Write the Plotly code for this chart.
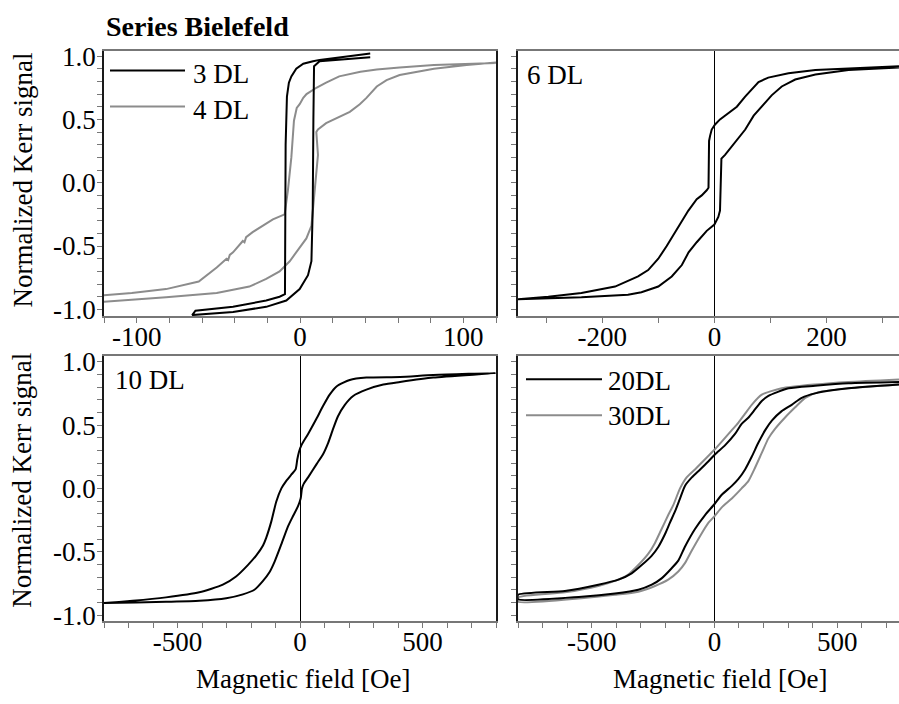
import plotly.graph_objects as go

# ---------------- data ----------------
# 3 DL (black), descending branch then ascending branch
dl3_down_field = [43, 30, 12, 8, 2, -2.3, -5.3, -6.8, -8, -8.8, -9, -9.2, -12.5, -20.7, -41, -64]
dl3_down_kerr = [1.02, 1.0, 0.97, 0.96, 0.94, 0.90, 0.84, 0.79, 0.68, 0.3, -0.5, -0.88, -0.90, -0.93, -0.98, -1.01]
dl3_up_field = [-66, -41, -20.7, -8.4, -0.2, 4.9, 7, 7.8, 8.2, 8.6, 12, 30, 43]
dl3_up_kerr = [-1.045, -1.02, -0.98, -0.93, -0.84, -0.73, -0.62, -0.2, 0.5, 0.92, 0.96, 0.98, 0.99]

# 4 DL (grey)
dl4_down_field = [120, 100, 82, 61, 47, 37, 24, 16, 10, 4, 2, -0.2, -2, -3.7, -5.3, -7.4, -9.4,
                  -16.6, -22.7, -29, -33, -34, -35, -41, -43, -44, -45, -51, -62, -82, -103, -121]
dl4_down_kerr = [0.946, 0.935, 0.93, 0.91, 0.895, 0.877, 0.84, 0.79, 0.75, 0.70, 0.67, 0.62, 0.59, 0.49,
                 0.20, -0.06, -0.25, -0.29, -0.34, -0.39, -0.43, -0.47, -0.46, -0.55, -0.57, -0.61, -0.60,
                 -0.67, -0.78, -0.84, -0.87, -0.89]
dl4_up_field = [-121, -82, -51, -31, -20.7, -12.5, -6.3, -1.2, 3.9, 7, 8, 9, 9.6, 11, 10, 11, 16,
                24.4, 30.5, 36.6, 40.7, 47, 53, 61, 82, 102, 120]
dl4_up_kerr = [-0.94, -0.905, -0.87, -0.82, -0.76, -0.70, -0.62, -0.53, -0.44, -0.34, -0.21, -0.08, 0.04,
               0.22, 0.40, 0.42, 0.47, 0.52, 0.56, 0.62, 0.67, 0.76, 0.81, 0.85, 0.90, 0.93, 0.95]

# 6 DL (black)
dl6_down_field = [329, 239, 180, 132, 96, 78.6, 66.7, 54.8, 40, 25, 10, 1.2, -4.8, -7.7, -9.5, -10.5,
                  -13.7, -22.6, -31.5, -46.4, -61.3, -76, -85, -100, -118, -136, -177, -237, -296, -350]
dl6_down_kerr = [0.92, 0.905, 0.89, 0.864, 0.83, 0.795, 0.74, 0.68, 0.60, 0.55, 0.50, 0.46, 0.42, 0.37,
                 0.33, -0.04, -0.06, -0.10, -0.13, -0.22, -0.33, -0.44, -0.50, -0.60, -0.69, -0.74, -0.82,
                 -0.87, -0.90, -0.92]
dl6_up_field = [-350, -237, -154, -130, -100, -76, -58, -46, -31.5, -13.7, 0, 7, 10, 11.5, 12.5, 19, 28,
                40, 55, 70, 84.5, 102, 120, 144, 180, 239, 329]
dl6_up_kerr = [-0.92, -0.905, -0.885, -0.865, -0.82, -0.74, -0.65, -0.55, -0.47, -0.38, -0.33, -0.27,
               -0.22, 0.0, 0.19, 0.22, 0.27, 0.33, 0.42, 0.53, 0.60, 0.69, 0.76, 0.815, 0.854, 0.89, 0.91]

# 10 DL (black)
dl10_down_field = [800, 544, 408, 271, 203, 149, 121, 94, 67, 33, 5.5, -4, -11, -18, -35, -56, -76, -97,
                   -117, -138, -151, -179, -213, -261, -315, -411, -547, -683, -800]
dl10_down_kerr = [0.91, 0.895, 0.88, 0.875, 0.856, 0.805, 0.74, 0.65, 0.55, 0.43, 0.34, 0.29, 0.23, 0.15,
                  0.11, 0.06, 0.0, -0.105, -0.26, -0.39, -0.45, -0.53, -0.605, -0.695, -0.76, -0.82, -0.86,
                  -0.887, -0.905]
dl10_up_field = [-800, -547, -411, -301, -233, -186, -151, -124, -104, -76, -49, -29, -8, 2.7, 8, 15, 33,
                 67, 94, 115, 135, 155, 183, 217, 271, 340, 408, 544, 800]
dl10_up_kerr = [-0.905, -0.895, -0.887, -0.867, -0.836, -0.80, -0.73, -0.66, -0.58, -0.44, -0.30, -0.22,
                -0.14, -0.08, 0.0, 0.036, 0.087, 0.19, 0.27, 0.36, 0.47, 0.57, 0.66, 0.73, 0.78, 0.82,
                0.84, 0.875, 0.91]

# 20 DL (black)
dl20_down_field = [752, 546, 410, 302, 220, 193, 166, 139, 111, 84, 43, 3, -24, -58, -92, -120, -140,
                   -160, -181, -201, -228, -255, -296, -337, -391, -473, -609, -800]
dl20_down_kerr = [0.84, 0.83, 0.81, 0.79, 0.73, 0.69, 0.625, 0.56, 0.51, 0.43, 0.34, 0.27, 0.215, 0.15,
                  0.087, 0.02, -0.08, -0.18, -0.27, -0.36, -0.46, -0.53, -0.605, -0.67, -0.72, -0.76,
                  -0.81, -0.84]
dl20_up_field = [-800, -541, -405, -310, -255, -215, -174, -147, -120, -79, -38, 0, 30, 71, 98, 125, 152,
                 179, 207, 234, 274, 315, 356, 410, 546, 752]
dl20_up_kerr = [-0.875, -0.855, -0.83, -0.80, -0.76, -0.71, -0.63, -0.57, -0.46, -0.32, -0.21, -0.125,
                -0.05, 0.02, 0.075, 0.15, 0.25, 0.36, 0.46, 0.535, 0.61, 0.66, 0.715, 0.75, 0.79, 0.82]

# 30 DL (grey)
dl30_down_field = [752, 546, 410, 274, 193, 152, 125, 98, 71, 30, 0, -38, -79, -113, -140, -167, -188,
                   -215, -242, -269, -310, -351, -405, -473, -609, -800]
dl30_down_kerr = [0.86, 0.84, 0.82, 0.79, 0.74, 0.66, 0.59, 0.52, 0.46, 0.37, 0.305, 0.23, 0.15, 0.087,
                  0.0, -0.13, -0.21, -0.32, -0.43, -0.515, -0.605, -0.68, -0.73, -0.77, -0.82, -0.86]
dl30_up_field = [-800, -541, -405, -310, -242, -188, -147, -120, -92, -58, -24, 0, 30, 71, 111, 139, 166,
                 193, 220, 247, 288, 329, 370, 424, 546, 752]
dl30_up_kerr = [-0.895, -0.867, -0.84, -0.815, -0.77, -0.72, -0.656, -0.59, -0.49, -0.375, -0.27, -0.22,
                -0.15, -0.08, 0.0, 0.06, 0.165, 0.28, 0.395, 0.47, 0.56, 0.64, 0.715, 0.76, 0.79, 0.82]

# tick labels
y_tick_vals = [-1.0, -0.5, 0.0, 0.5, 1.0]
y_tick_text = ["-1.0", "-0.5", "0.0", "0.5", "1.0"]
x1_tick_vals = [-100, 0, 100]
x1_tick_text = ["-100", "0", "100"]
x2_tick_vals = [-200, 0, 200]
x2_tick_text = ["-200", "0", "200"]
x34_tick_vals = [-500, 0, 500]
x34_tick_text = ["-500", "0", "500"]

# ---------------- figure ----------------
W, H = 899, 704
BLACK = "#000000"
GREY = "#8c8c8c"
XAXC = "#777777"
YAXC = "#1a1a1a"
TICKC = "#777777"
FONT = "Liberation Serif"
FS = 27


def px(x):
    return x / W


def py(y):
    return 1 - y / H


fig = go.Figure()


def loop(xd, yd, xu, yu, color, xa, ya, shape="linear"):
    fig.add_trace(go.Scatter(x=xd + xu, y=yd + yu, mode="lines",
                             line=dict(color=color, width=2, shape=shape, smoothing=0.6),
                             xaxis=xa, yaxis=ya, showlegend=False, hoverinfo="skip"))


loop(dl4_down_field, dl4_down_kerr, dl4_up_field, dl4_up_kerr, GREY, "x", "y")
loop(dl3_down_field, dl3_down_kerr, dl3_up_field, dl3_up_kerr, BLACK, "x", "y")
loop(dl6_down_field, dl6_down_kerr, dl6_up_field, dl6_up_kerr, BLACK, "x2", "y2")
loop(dl10_down_field, dl10_down_kerr, dl10_up_field, dl10_up_kerr, BLACK, "x3", "y3", "spline")
loop(dl30_down_field, dl30_down_kerr, dl30_up_field, dl30_up_kerr, GREY, "x4", "y4", "spline")
loop(dl20_down_field, dl20_down_kerr, dl20_up_field, dl20_up_kerr, BLACK, "x4", "y4", "spline")

tickfont = dict(family=FONT, size=FS, color="black")


def xax(domain, rng, tv, tt, minor, anchor, zero):
    return dict(domain=domain, range=rng, anchor=anchor, tickmode="array", tickvals=tv, ticktext=tt,
                showline=True, linecolor=XAXC, linewidth=1.5, mirror=True, ticks="outside",
                ticklen=5, tickcolor=TICKC, tickwidth=1.2, showgrid=False, tickfont=tickfont,
                ticklabelstandoff=-9,
                zeroline=zero, zerolinecolor="black", zerolinewidth=1,
                minor=dict(dtick=minor, tick0=0, ticks="outside", ticklen=5, tickcolor=TICKC,
                           tickwidth=1.2, showgrid=False))


def yax(domain, rng, anchor, labels, mirror):
    return dict(domain=domain, range=rng, anchor=anchor, tickmode="array", tickvals=y_tick_vals,
                ticktext=y_tick_text, showticklabels=labels,
                showline=True, linecolor=YAXC, linewidth=1.5, mirror=mirror, ticks="outside",
                ticklen=5, tickcolor=TICKC, tickwidth=1.2, showgrid=False, zeroline=False,
                tickfont=tickfont, ticklabelstandoff=-4,
                minor=dict(dtick=0.1, tick0=0, ticks="outside", ticklen=5, tickcolor=TICKC,
                           tickwidth=1.2, showgrid=False))


xl = [px(104), px(496)]
xr = [px(518), 1.0]
yt = [py(315), py(43)]
yb = [py(628), py(356)]

fig.update_layout(
    width=W, height=H, margin=dict(l=0, r=0, t=0, b=0),
    paper_bgcolor="white", plot_bgcolor="white",
    font=dict(family=FONT, size=FS, color="black"),
    xaxis=xax(xl, [-120, 120], x1_tick_vals, x1_tick_text, 20, "y", False),
    yaxis=yax(yt, [-1.052, 1.041], "x", True, True),
    xaxis2=xax(xr, [-350, 329], x2_tick_vals, x2_tick_text, 100, "y2", True),
    yaxis2=yax(yt, [-1.052, 1.041], "x2", False, False),
    xaxis3=xax(xl, [-800, 800], x34_tick_vals, x34_tick_text, 100, "y3", True),
    yaxis3=yax(yb, [-1.046, 1.046], "x3", True, True),
    xaxis4=xax(xr, [-800, 752], x34_tick_vals, x34_tick_text, 100, "y4", True),
    yaxis4=yax(yb, [-1.046, 1.046], "x4", False, False),
)

ann = []


def text(t, x, y, xanchor="left", size=FS, angle=0):
    ann.append(dict(text=t, x=px(x), y=py(y), xref="paper", yref="paper", xanchor=xanchor,
                    yanchor="middle", showarrow=False, textangle=angle,
                    font=dict(family=FONT, size=size, color="black")))


text("<b>Series Bielefeld</b>", 104, 18, size=28)
text("Normalized Kerr signal", 22, 176, xanchor="center", angle=-90)
text("Normalized Kerr signal", 22, 484, xanchor="center", angle=-90)
text("Magnetic field [Oe]", 303, 688, xanchor="center")
text("Magnetic field [Oe]", 720, 688, xanchor="center")
text("6 DL", 525, 68)
text("10 DL", 113, 381)
text("3 DL", 191, 67)
text("4 DL", 191, 104)
text("20DL", 606, 382)
text("30DL", 606, 418)
fig.update_layout(annotations=ann)

shapes = []
for (x0, x1, y, c) in [(110, 185, 63, BLACK), (110, 185, 100, GREY), (526, 602, 380, BLACK), (526, 602, 417, GREY)]:
    shapes.append(dict(type="line", xref="paper", yref="paper", x0=px(x0), x1=px(x1), y0=py(y), y1=py(y),
                       line=dict(color=c, width=2)))
fig.update_layout(shapes=shapes)

fig.write_html("out.html")
